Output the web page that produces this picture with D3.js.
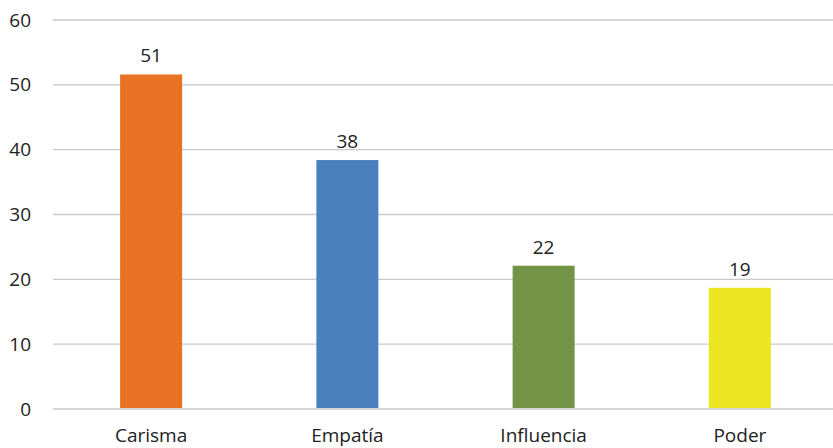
<!DOCTYPE html>
<html>
<head>
<meta charset="utf-8">
<script src="https://d3js.org/d3.v7.min.js"></script>
<style>
body { margin: 0; background: #fff; font-family: "Open Sans", "Noto Sans", sans-serif; }
</style>
</head>
<body>
<script>
var categories = ['Carisma', 'Empatía', 'Influencia', 'Poder'];
var values = [51.6, 38.4, 22.1, 18.7];
var valueLabels = ['51', '38', '22', '19'];
var colors = ['#E87324', '#4B80BE', '#739446', '#EBE61F'];
var yTicks = [0, 10, 20, 30, 40, 50, 60];

var width = 833, height = 448;
var svg = d3.select('body').append('svg').attr('width', width).attr('height', height);

var x = d3.scaleBand().domain(categories).range([53, 838]).paddingInner(0.684).paddingOuter(0.342);
var y = d3.scaleLinear().domain([0, 60]).range([409, 20]);

//gridlines
svg.append('g').selectAll('line').data(yTicks).enter().append('line')
	.attr('x1', 53).attr('x2', width)
	.attr('y1', function(d) { return y(d); }).attr('y2', function(d) { return y(d); })
	.attr('stroke', '#c9c9c9').attr('stroke-width', 1.3);

//y labels
svg.append('g').selectAll('text').data(yTicks).enter().append('text')
	.attr('x', 31).attr('y', function(d) { return y(d); })
	.attr('dy', '0.35em').attr('text-anchor', 'end')
	.attr('font-size', 19).attr('fill', '#222')
	.text(function(d) { return d; });

//bars
svg.append('g').selectAll('rect').data(values).enter().append('rect')
	.attr('x', function(d, i) { return x(categories[i]); })
	.attr('width', x.bandwidth())
	.attr('y', function(d) { return y(d); })
	.attr('height', function(d) { return y(0) - y(d) - 1; })
	.attr('fill', function(d, i) { return colors[i]; });

//value labels
svg.append('g').selectAll('text').data(values).enter().append('text')
	.attr('x', function(d, i) { return x(categories[i]) + x.bandwidth() / 2; })
	.attr('y', function(d) { return y(d) - 12; })
	.attr('text-anchor', 'middle').attr('font-size', 19).attr('fill', '#222')
	.text(function(d, i) { return valueLabels[i]; });

//category labels
svg.append('g').selectAll('text').data(categories).enter().append('text')
	.attr('x', function(d) { return x(d) + x.bandwidth() / 2; })
	.attr('y', 442)
	.attr('text-anchor', 'middle').attr('font-size', 19).attr('fill', '#222')
	.text(function(d) { return d; });
</script>
</body>
</html>
